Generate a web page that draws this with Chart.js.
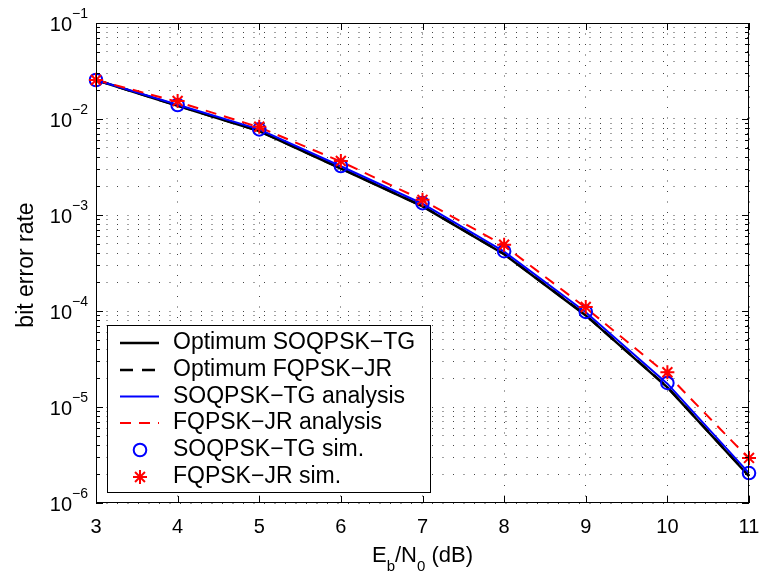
<!DOCTYPE html>
<html><head><meta charset="utf-8">
<script src="https://cdn.jsdelivr.net/npm/chart.js@4.4.0/dist/chart.umd.min.js"></script>
<style>html,body{margin:0;padding:0;background:#fff;}#wrap{width:764px;height:578px;position:relative;}</style>
</head><body><div id="wrap"><canvas id="c" width="764" height="578"></canvas></div>
<script>
// ---- data ----
const ebn0 = [3, 4, 5, 6, 7, 8, 9, 10, 11];
const optSoqpskTg      = [0.0255, 0.0137, 0.0075, 0.00305, 0.00123, 0.000390, 0.0000900, 0.0000160, 0.00000190];
const optFqpskJr       = [0.0255, 0.0138, 0.0075, 0.00306, 0.00124, 0.000392, 0.0000905, 0.0000161, 0.00000192];
const soqpskTgAnalysis = [0.0255, 0.0141, 0.0078, 0.00322, 0.00131, 0.000415, 0.0000970, 0.0000175, 0.00000205];
const fqpskJrAnalysis  = [0.0255, 0.0151, 0.0082, 0.00360, 0.00143, 0.000480, 0.000108, 0.0000218, 0.00000290];
const soqpskTgSim      = [0.0255, 0.0140, 0.0078, 0.00324, 0.00133, 0.000420, 0.0000980, 0.0000178, 0.00000205];
const fqpskJrSim       = [0.0255, 0.0154, 0.0083, 0.00365, 0.00144, 0.000490, 0.000110, 0.0000230, 0.00000295];
const xTickLabels = ['3', '4', '5', '6', '7', '8', '9', '10', '11'];
const yDecadeExps = [-6, -5, -4, -3, -2, -1];
const seriesNames = ['Optimum SOQPSK\u2212TG', 'Optimum FQPSK\u2212JR', 'SOQPSK\u2212TG analysis',
                     'FQPSK\u2212JR analysis', 'SOQPSK\u2212TG sim.', 'FQPSK\u2212JR sim.'];
const xTitle = ['E', 'b', '/N', '0', ' (dB)'];
const yTitle = 'bit error rate';

const FONT = '"Liberation Sans", Arial, Helvetica, sans-serif';
const pts = arr => ebn0.map((x, i) => ({x: x, y: arr[i]}));

const DASH_BLACK = [13, 9];
const DASH_RED = [11, 8];

const styles = [
  {color: '#000000', width: 2.5, dash: []},
  {color: '#000000', width: 2.5, dash: DASH_BLACK},
  {color: '#0000ff', width: 2, dash: []},
  {color: '#ff0000', width: 2, dash: DASH_RED},
];

const datasets = [
  {label: seriesNames[5], data: pts(fqpskJrSim), showLine: false, pointStyle: 'star', pointRadius: 7,
   pointBorderColor: '#ff0000', pointBackgroundColor: '#ff0000', pointBorderWidth: 2, order: 0, clip: false},
  {label: seriesNames[4], data: pts(soqpskTgSim), showLine: false, pointStyle: 'circle', pointRadius: 6.3,
   pointBorderColor: '#0000ff', pointBackgroundColor: 'rgba(0,0,0,0)', pointBorderWidth: 2, order: 1, clip: false},
  {label: seriesNames[3], data: pts(fqpskJrAnalysis), borderColor: '#ff0000', borderWidth: 2, borderDash: DASH_RED,
   pointRadius: 0, order: 2, clip: false},
  {label: seriesNames[2], data: pts(soqpskTgAnalysis), borderColor: '#0000ff', borderWidth: 2,
   pointRadius: 0, order: 3, clip: false},
  {label: seriesNames[1], data: pts(optFqpskJr), borderColor: '#000000', borderWidth: 2.5, borderDash: DASH_BLACK,
   pointRadius: 0, order: 4, clip: false},
  {label: seriesNames[0], data: pts(optSoqpskTg), borderColor: '#000000', borderWidth: 2.5,
   pointRadius: 0, order: 5, clip: false},
];

function drawStar(ctx, cx, cy, r) {
  ctx.beginPath();
  ctx.moveTo(cx - r, cy); ctx.lineTo(cx + r, cy);
  ctx.moveTo(cx, cy - r); ctx.lineTo(cx, cy + r);
  const d = r * Math.SQRT1_2;
  ctx.moveTo(cx - d, cy - d); ctx.lineTo(cx + d, cy + d);
  ctx.moveTo(cx - d, cy + d); ctx.lineTo(cx + d, cy - d);
  ctx.stroke();
}

const deco = {
  id: 'deco',
  afterDatasetsDraw(chart) {
    const {ctx, chartArea: a, scales: {x, y}} = chart;
    ctx.save();
    ctx.strokeStyle = '#000'; ctx.lineWidth = 1; ctx.setLineDash([]);
    // inner tick marks
    ctx.beginPath();
    y.ticks.forEach(t => {
      const py = Math.round(y.getPixelForValue(t.value)) + 0.5;
      const lg = Math.log10(t.value);
      const len = Math.abs(lg - Math.round(lg)) < 1e-9 ? 7 : 4;
      ctx.moveTo(a.left, py); ctx.lineTo(a.left + len, py);
      ctx.moveTo(a.right, py); ctx.lineTo(a.right - len, py);
    });
    x.ticks.forEach(t => {
      const px = Math.round(x.getPixelForValue(t.value)) + 0.5;
      ctx.moveTo(px, a.bottom); ctx.lineTo(px, a.bottom - 7);
      ctx.moveTo(px, a.top); ctx.lineTo(px, a.top + 7);
    });
    ctx.stroke();
    // box
    ctx.strokeRect(a.left + 0.5, a.top + 0.5, a.right - a.left - 1, a.bottom - a.top - 1);

    ctx.fillStyle = '#000';
    // y tick labels 10^k
    yDecadeExps.forEach(k => {
      const py = y.getPixelForValue(Math.pow(10, k));
      ctx.font = '20px ' + FONT;
      const w10 = ctx.measureText('10').width;
      ctx.font = '14px ' + FONT;
      const ex = '\u2212' + Math.abs(k);
      const we = ctx.measureText(ex).width;
      const right = a.left - 8;
      ctx.textAlign = 'left'; ctx.textBaseline = 'alphabetic';
      ctx.font = '20px ' + FONT;
      ctx.fillText('10', right - we - w10, py + 7.5);
      ctx.font = '14px ' + FONT;
      ctx.fillText(ex, right - we, py - 5);
    });
    // x tick labels
    ctx.font = '20px ' + FONT; ctx.textAlign = 'center'; ctx.textBaseline = 'alphabetic';
    x.ticks.forEach((t, i) => {
      const px = x.getPixelForValue(t.value);
      ctx.fillText(xTickLabels[i], px, 533);
    });
    // x title with subscripts
    const parts = xTitle.map((s, i) => ({s, sub: i === 1 || i === 3}));
    let total = 0;
    parts.forEach(p => { ctx.font = (p.sub ? '15px ' : '22px ') + FONT; p.w = ctx.measureText(p.s).width; total += p.w; });
    let cx = (a.left + a.right) / 2 - total / 2;
    ctx.textAlign = 'left';
    parts.forEach(p => {
      ctx.font = (p.sub ? '15px ' : '22px ') + FONT;
      ctx.fillText(p.s, cx, p.sub ? 571 : 562);
      cx += p.w;
    });
    // y title
    ctx.save();
    ctx.translate(33, (a.top + a.bottom) / 2 + 2);
    ctx.rotate(-Math.PI / 2);
    ctx.font = '23px ' + FONT; ctx.textAlign = 'center'; ctx.textBaseline = 'alphabetic';
    ctx.fillText(yTitle, 0, 0);
    ctx.restore();

    // legend
    const L = {x: 107, y: 325, w: 323, h: 167};
    ctx.fillStyle = '#fff';
    ctx.fillRect(L.x, L.y, L.w, L.h);
    ctx.strokeStyle = '#000'; ctx.lineWidth = 1;
    ctx.strokeRect(L.x + 0.5, L.y + 0.5, L.w, L.h);
    const rowY = [343, 370, 396.5, 423, 450, 477];
    for (let i = 0; i < 6; i++) {
      const ry = rowY[i];
      if (i < 4) {
        const s = styles[i];
        ctx.strokeStyle = s.color; ctx.lineWidth = s.width; ctx.setLineDash(s.dash);
        ctx.beginPath(); ctx.moveTo(120, ry); ctx.lineTo(159, ry); ctx.stroke();
        ctx.setLineDash([]);
      } else if (i === 4) {
        ctx.strokeStyle = '#0000ff'; ctx.lineWidth = 2;
        ctx.beginPath(); ctx.arc(140, ry, 6.3, 0, Math.PI * 2); ctx.stroke();
      } else {
        ctx.strokeStyle = '#ff0000'; ctx.lineWidth = 2;
        drawStar(ctx, 140, ry, 7);
      }
      ctx.fillStyle = '#000';
      ctx.font = '23px ' + FONT; ctx.textAlign = 'left'; ctx.textBaseline = 'middle';
      ctx.fillText(seriesNames[i], 173, ry);
    }
    ctx.restore();
  }
};

new Chart(document.getElementById('c'), {
  type: 'line',
  data: {datasets},
  options: {
    responsive: false,
    animation: false,
    devicePixelRatio: 1,
    layout: {padding: {top: 23, right: 15, left: 0, bottom: 0}},
    plugins: {legend: {display: false}, tooltip: {enabled: false}},
    elements: {line: {tension: 0}},
    scales: {
      x: {
        type: 'linear', min: 3, max: 11,
        ticks: {stepSize: 1, display: false},
        grid: {color: '#444', lineWidth: 1, drawTicks: false},
        border: {display: false, dash: [1, 9.5]},
        afterFit: s => { s.height = 75; }
      },
      y: {
        type: 'logarithmic', min: 1e-6, max: 1e-1,
        ticks: {display: false},
        grid: {color: '#444', lineWidth: 1, drawTicks: false},
        border: {display: false, dash: [1, 9.5]},
        afterBuildTicks: s => {
          const t = [];
          for (let e = -6; e <= -2; e++) for (let m = 1; m <= 9; m++) t.push({value: m * Math.pow(10, e)});
          t.push({value: 1e-1});
          s.ticks = t;
        },
        afterFit: s => { s.width = 96; }
      }
    }
  },
  plugins: [deco]
});
</script></body></html>
